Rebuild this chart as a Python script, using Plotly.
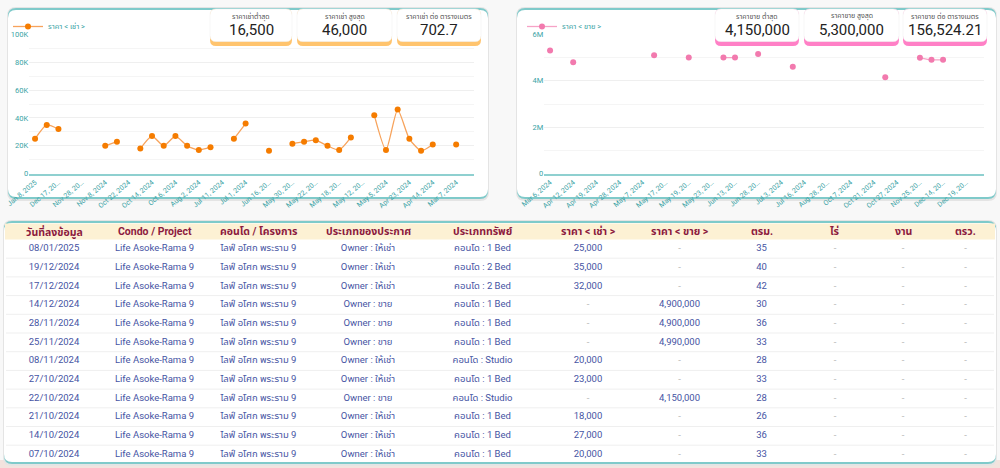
import plotly.graph_objects as go

# ---------------- DATA ----------------
dates = ["Jan 8, 2025", "Dec 19, 2024", "Dec 17, 2024", "Dec 14, 2024", "Nov 28, 2024",
         "Nov 25, 2024", "Nov 8, 2024", "Oct 27, 2024", "Oct 22, 2024", "Oct 21, 2024",
         "Oct 14, 2024", "Oct 7, 2024", "Oct 6, 2024", "Aug 28, 2024", "Aug 2, 2024",
         "Jul 16, 2024", "Jul 11, 2024", "Jul 3, 2024", "Jul 1, 2024", "Jun 28, 2024",
         "Jun 16, 2024", "Jun 13, 2024", "May 30, 2024", "May 23, 2024", "May 22, 2024",
         "May 19, 2024", "May 18, 2024", "May 17, 2024", "May 12, 2024", "May 7, 2024",
         "May 5, 2024", "Apr 28, 2024", "Apr 23, 2024", "Apr 19, 2024", "Apr 14, 2024",
         "Apr 12, 2024", "Mar 7, 2024", "Mar 6, 2024"]

rent_values = [25000, 35000, 32000, None, None, None, 20000, 23000, None, 18000,
               27000, 20000, 27000, 20000, 17000, 19000, None, 25000, 36000, None,
               16500, None, 21500, 23000, 24000, 20000, 17000, 26000, None, 42000,
               17000, 46000, 25000, 16500, 21000, None, 21000, None]

sale_values = [None, None, None, 4900000, 4900000, 4990000, None, None, 4150000, None,
               None, None, None, None, None, None, 4600000, None, None, 5150000,
               None, 5000000, 5000000, None, None, 5000000, None, None, 5100000, None,
               None, None, None, None, None, 4800000, None, 5300000]

rent_tick_text = ["Jan 8, 2025", "Dec 17, 20…", "Nov 28, 20…", "Nov 8, 2024", "Oct 22, 2024",
                  "Oct 14, 2024", "Oct 6, 2024", "Aug 2, 2024", "Jul 11, 2024", "Jul 1, 2024",
                  "Jun 16, 20…", "May 30, 20…", "May 22, 20…", "May 18, 20…", "May 12, 20…",
                  "May 5, 2024", "Apr 23, 2024", "Apr 14, 2024", "Mar 7, 2024"]
sale_tick_text = ["Mar 6, 2024", "Apr 12, 2024", "Apr 19, 2024", "Apr 28, 2024", "May 7, 2024",
                  "May 17, 20…", "May 19, 20…", "May 23, 20…", "Jun 13, 20…", "Jun 28, 20…",
                  "Jul 3, 2024", "Jul 16, 2024", "Aug 28, 20…", "Oct 7, 2024", "Oct 21, 2024",
                  "Oct 27, 2024", "Nov 25, 20…", "Dec 14, 20…", "Dec 19, 20…"]

rent_y_ticks = [0, 20000, 40000, 60000, 80000, 100000]
rent_y_text = ["0", "20K", "40K", "60K", "80K", "100K"]
sale_y_ticks = [0, 2000000, 4000000, 6000000]
sale_y_text = ["0", "2M", "4M", "6M"]

rent_kpi_titles = ["ราคาเช่าต่ำสุด", "ราคาเช่า สูงสุด", "ราคาเช่า ต่อ ตารางเมตร"]
rent_kpi_values = ["16,500", "46,000", "702.7"]
sale_kpi_titles = ["ราคาขาย ต่ำสุด", "ราคาขาย สูงสุด", "ราคาขาย ต่อ ตารางเมตร"]
sale_kpi_values = ["4,150,000", "5,300,000", "156,524.21"]

table_headers = ["วันที่ลงข้อมูล", "Condo / Project", "คอนโด / โครงการ", "ประเภทของประกาศ",
                 "ประเภททรัพย์", "ราคา < เช่า >", "ราคา < ขาย >", "ตรม.", "ไร่", "งาน", "ตรว."]
col_date = ["08/01/2025", "19/12/2024", "17/12/2024", "14/12/2024", "28/11/2024", "25/11/2024",
            "08/11/2024", "27/10/2024", "22/10/2024", "21/10/2024", "14/10/2024", "07/10/2024"]
col_project = ["Life Asoke-Rama 9"] * 12
col_project_th = ["ไลฟ์ อโศก พระราม 9"] * 12
col_post_type = ["Owner : ให้เช่า", "Owner : ให้เช่า", "Owner : ให้เช่า", "Owner : ขาย",
                 "Owner : ขาย", "Owner : ขาย", "Owner : ให้เช่า", "Owner : ให้เช่า",
                 "Owner : ขาย", "Owner : ให้เช่า", "Owner : ให้เช่า", "Owner : ให้เช่า"]
col_prop_type = ["คอนโด : 1 Bed", "คอนโด : 2 Bed", "คอนโด : 2 Bed", "คอนโด : 1 Bed",
                 "คอนโด : 1 Bed", "คอนโด : 1 Bed", "คอนโด : Studio", "คอนโด : 1 Bed",
                 "คอนโด : Studio", "คอนโด : 1 Bed", "คอนโด : 1 Bed", "คอนโด : 1 Bed"]
col_rent = ["25,000", "35,000", "32,000", "-", "-", "-", "20,000", "23,000", "-",
            "18,000", "27,000", "20,000"]
col_sale = ["-", "-", "-", "4,900,000", "4,900,000", "4,990,000", "-", "-", "4,150,000",
            "-", "-", "-"]
col_sqm = ["35", "40", "42", "30", "36", "33", "28", "33", "28", "26", "36", "33"]
col_rai = ["-"] * 12
col_ngan = ["-"] * 12
col_wa = ["-"] * 12

# ---------------- STYLE ----------------
W, H = 1000, 468
FONT = "Roboto, 'Noto Sans Thai', 'DejaVu Sans', sans-serif"
TEAL_TXT = "#3aa3a5"
TEAL_LINE = "#8fd0d0"
ROW_H = 18.7
ROWS_TOP = 239.5        # top of first body row (px)
EMPTY_HEADER = 19.5     # height plotly keeps for the (empty) table header row


def px(x):
    return x / W


def py(y):
    return 1 - y / H


def rrect(x0, y0, x1, y1, r):
    pts = [
        ("M", (x0 + r, y0)), ("L", (x1 - r, y0)), ("Q", (x1, y0), (x1, y0 + r)),
        ("L", (x1, y1 - r)), ("Q", (x1, y1), (x1 - r, y1)), ("L", (x0 + r, y1)),
        ("Q", (x0, y1), (x0, y1 - r)), ("L", (x0, y0 + r)), ("Q", (x0, y0), (x0 + r, y0)),
    ]
    s = ""
    for p in pts:
        coords = " ".join(f"{px(a):.5f},{py(b):.5f}" for a, b in p[1:])
        s += f"{p[0]}{coords} "
    return s + "Z"


shapes = []


def add_shape(path, fill, layer="below", line_color=None, line_width=0):
    shapes.append(dict(type="path", xref="paper", yref="paper", path=path,
                       fillcolor=fill, layer=layer,
                       line=dict(color=line_color or fill, width=line_width)))


# page bottom tint
shapes.append(dict(type="rect", xref="paper", yref="paper", x0=0, x1=1, y0=0, y1=py(460),
                   fillcolor="#f3e3de", line=dict(width=0), layer="below"))

# cards
for (x0, y0, x1, y1) in [(8, 8, 488, 199), (517, 8, 996, 199), (4, 221, 996, 464)]:
    add_shape(rrect(x0 - 1, y0 - 1, x1 + 1, y1 + 2, 9), "#e4e4e4")
    add_shape(rrect(x0, y0, x1, y1, 8), "#7fcaca")
    add_shape(rrect(x0, y0 + 2, x1, y1 - 2, 8), "#ffffff")

# table header band
shapes.append(dict(type="rect", xref="paper", yref="paper", x0=px(5), x1=px(995),
                   y0=py(ROWS_TOP), y1=py(223.5), fillcolor="#fdf1d4",
                   line=dict(width=0), layer="below"))
# row separators
for k in range(1, 12):
    yk = ROWS_TOP + k * ROW_H
    shapes.append(dict(type="line", xref="paper", yref="paper", x0=px(6), x1=px(994),
                       y0=py(yk), y1=py(yk), line=dict(color="#efefef", width=1),
                       layer="below"))

# KPI cards
annotations = []
rent_boxes = [(210, 292), (297, 392), (397, 481)]
sale_boxes = [(715, 799), (804, 899), (903, 987)]
for boxes, titles, values, bar in [(rent_boxes, rent_kpi_titles, rent_kpi_values, "#ffc46e"),
                                   (sale_boxes, sale_kpi_titles, sale_kpi_values, "#ff80c6")]:
    for (x0, x1), t, v in zip(boxes, titles, values):
        add_shape(rrect(x0, 9, x1, 46, 6), bar, layer="above")
        add_shape(rrect(x0, 9, x1, 41.5, 6), "#ffffff", layer="above",
                  line_color="#f1f1f1", line_width=0.6)
        cx = (x0 + x1) / 2
        annotations.append(dict(x=px(cx), y=py(17), xref="paper", yref="paper", text=t,
                                showarrow=False, font=dict(size=7, color="#555555", family=FONT),
                                xanchor="center", yanchor="middle"))
        annotations.append(dict(x=px(cx), y=py(30.5), xref="paper", yref="paper", text=v,
                                showarrow=False, font=dict(size=15, color="#222222", family=FONT),
                                xanchor="center", yanchor="middle"))

# table header labels over the band at column centres
col_widths = [98, 103, 105, 114, 115, 96, 87, 77, 70, 66, 59]
tx0, tx1 = 5, 995
scale = (tx1 - tx0) / sum(col_widths)
acc = tx0
for h, w in zip(table_headers, col_widths):
    cx = acc + w * scale / 2
    acc += w * scale
    annotations.append(dict(x=px(cx), y=py(231.5), xref="paper", yref="paper",
                            text=f"<b>{h}</b>", showarrow=False,
                            font=dict(size=10.5, color="#8c1a3e", family=FONT),
                            xanchor="center", yanchor="middle"))

fig = go.Figure()

fig.add_trace(go.Scatter(
    x=dates, y=rent_values, mode="lines+markers", name="ราคา < เช่า >",
    line=dict(color="#f7a35c", width=1.3, shape="spline", smoothing=0.6),
    marker=dict(color="#f57c00", size=6), connectgaps=False,
    xaxis="x", yaxis="y", legend="legend"))

fig.add_trace(go.Scatter(
    x=dates, y=sale_values, mode="lines+markers", name="ราคา < ขาย >",
    line=dict(color="#f6a3c6", width=1.3, shape="spline", smoothing=0.6),
    marker=dict(color="#f27aae", size=6), connectgaps=False,
    xaxis="x2", yaxis="y2", legend="legend2"))


def colors(col):
    return ["#b5b5b5" if c == "-" else "#4654a3" for c in col]


cols = [col_date, col_project, col_project_th, col_post_type, col_prop_type,
        col_rent, col_sale, col_sqm, col_rai, col_ngan, col_wa]
fig.add_trace(go.Table(
    domain=dict(x=[px(tx0), px(tx1)], y=[py(467.5), py(ROWS_TOP - EMPTY_HEADER)]),
    columnwidth=col_widths,
    header=dict(values=[], height=1, fill_color="rgba(0,0,0,0)",
                line=dict(color="rgba(0,0,0,0)", width=0)),
    cells=dict(values=cols, fill_color="rgba(0,0,0,0)",
               line=dict(color="rgba(0,0,0,0)", width=0),
               font=dict(size=9.5, color=[colors(c) for c in cols], family=FONT),
               align="center", height=ROW_H)))

axis_common_x = dict(type="category", showgrid=False, showline=True, linecolor=TEAL_LINE,
                     linewidth=2, ticks="", tickangle=-40, tickmode="array", automargin=False,
                     tickfont=dict(size=7, color=TEAL_TXT, family=FONT), fixedrange=True)
axis_common_y = dict(showgrid=True, gridcolor="#efefef", gridwidth=1, zeroline=False,
                     showline=False, ticks="", tickmode="array", automargin=False,
                     tickfont=dict(size=7.5, color=TEAL_TXT, family=FONT))

fig.update_layout(
    template="none",
    width=W, height=H, margin=dict(l=0, r=0, t=0, b=0, pad=0, autoexpand=False),
    paper_bgcolor="#f8f8f8", plot_bgcolor="rgba(0,0,0,0)",
    font=dict(family=FONT),
    xaxis=dict(domain=[0.0292, 0.4737], anchor="y", categoryorder="array",
               categoryarray=dates, range=[-0.5, len(dates) - 0.5],
               tickvals=dates[0::2], ticktext=rent_tick_text, **axis_common_x),
    yaxis=dict(domain=[py(173.7), py(34.3)], anchor="x", range=[0, 100000],
               tickvals=rent_y_ticks, ticktext=rent_y_text,
               minor=dict(dtick=10000, tick0=0, showgrid=True, gridcolor="#f5f5f5"),
               **axis_common_y),
    xaxis2=dict(domain=[0.5443, 0.9835], anchor="y2", categoryorder="array",
                categoryarray=dates[::-1], range=[-0.5, len(dates) - 0.5],
                tickvals=dates[::-1][0::2], ticktext=sale_tick_text, **axis_common_x),
    yaxis2=dict(domain=[py(173.7), py(34.3)], anchor="x2", range=[0, 6000000],
                tickvals=sale_y_ticks, ticktext=sale_y_text,
                minor=dict(dtick=1000000, tick0=0, showgrid=True, gridcolor="#f5f5f5"),
                **axis_common_y),
    legend=dict(x=px(8), y=py(12), xanchor="left", yanchor="top", orientation="h",
                bgcolor="rgba(0,0,0,0)", itemwidth=30,
                font=dict(size=7.5, color=TEAL_TXT, family=FONT)),
    legend2=dict(x=px(522), y=py(12), xanchor="left", yanchor="top", orientation="h",
                 bgcolor="rgba(0,0,0,0)", itemwidth=30,
                 font=dict(size=7.5, color=TEAL_TXT, family=FONT)),
    shapes=shapes, annotations=annotations, showlegend=True,
)

fig.write_html("out.html", config={"displayModeBar": False},
               post_script="document.body.style.margin='0';document.body.style.overflow='hidden';")
